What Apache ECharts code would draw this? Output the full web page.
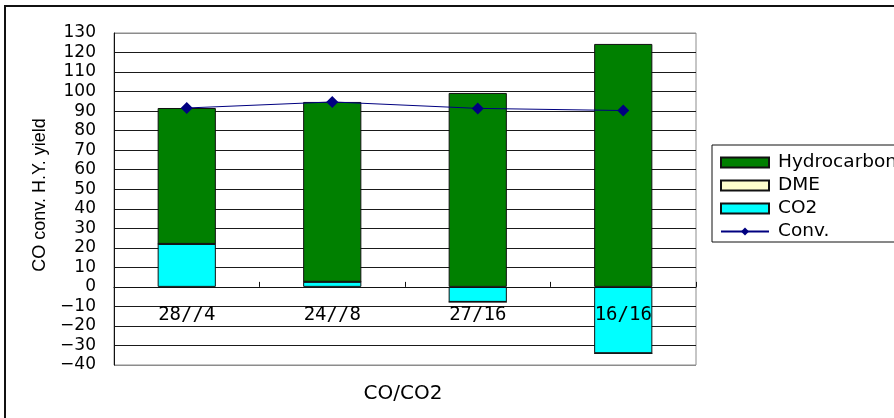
<!DOCTYPE html>
<html>
<head>
<meta charset="utf-8">
<style>
  html, body { margin: 0; padding: 0; background: #fff; }
  #chart { width: 894px; height: 418px; }
</style>
<script src="https://cdn.jsdelivr.net/npm/echarts@6/dist/echarts.min.js"></script>
</head>
<body>
<div id="chart"></div>
<script>
// CO/CO2 feed ratios
const categories = ['28//4', '24//8', '27/16', '16/16'];
// Yields (stacked), CO2 can be negative (consumed)
const co2 = [22, 2.6, -7.7, -34];
const dme = [0, 0, 0, 0];
const hydrocarbon = [69.6, 92.1, 99.3, 124.4];
// CO conversion
const conv = [91.6, 94.7, 91.4, 90.3];
// Value axis ticks
const yMin = -40, yMax = 130, yStep = 10;

const sansWide = 'DejaVu Sans';
const gridTop = 33, gridBottom = 53, chartH = 418;
// category axis sits on the zero line
const zeroOffset = -(chartH - gridTop - gridBottom) * (0 - yMin) / (yMax - yMin);

const chart = echarts.init(document.getElementById('chart'), null, { renderer: 'canvas' });

// grid lines: bottom and top in frame grey, inner ones black
const lineColors = [];
for (let v = yMin; v <= yMax; v += yStep) {
  lineColors.push(v === yMin || v === yMax ? '#8c8c8c' : '#1a1a1a');
}

const barBase = {
  type: 'bar',
  stack: 'yield',
  barWidth: '40%'
};

chart.setOption({
  animation: false,
  backgroundColor: '#fff',
  title: {
    text: 'CO/CO2',
    left: 403, top: 384,
    textAlign: 'center',
    padding: 0,
    textStyle: { fontFamily: sansWide, fontSize: 20, fontWeight: 'normal', color: '#000' }
  },
  graphic: [{
    type: 'rect',
    shape: { x: 5, y: 6, width: 1400, height: 1400 },
    style: { fill: null, stroke: '#111', lineWidth: 2 },
    z: 0
  }],
  grid: {
    left: 114, right: 198, top: gridTop, bottom: gridBottom,
    outerBoundsMode: 'none',
    containLabel: false,
    show: true, borderColor: '#8c8c8c', borderWidth: 1, backgroundColor: '#fff'
  },
  legend: {
    orient: 'vertical',
    left: 712, top: 145,
    padding: [8, 8, 1, 8],
    itemWidth: 48, itemHeight: 10, itemGap: 4,
    borderColor: '#111', borderWidth: 1, backgroundColor: '#fff',
    data: [
      { name: 'Hydrocarbon', icon: 'rect' },
      { name: 'DME', icon: 'rect' },
      { name: 'CO2', icon: 'rect' },
      { name: 'Conv.' }
    ],
    textStyle: { fontFamily: sansWide, fontSize: 18.5, color: '#000', padding: [0, 0, 0, 4] }
  },
  xAxis: {
    type: 'category',
    data: categories,
    z: 5,
    position: 'bottom',
    offset: zeroOffset,
    axisLine: { onZero: false, lineStyle: { color: '#111', width: 1 } },
    axisTick: { show: true, inside: true, length: 5, lineStyle: { color: '#111' } },
    axisLabel: { fontFamily: 'DejaVu Sans Mono', fontSize: 19, color: '#000', margin: 19 },
    splitLine: { show: false }
  },
  yAxis: {
    type: 'value',
    min: yMin, max: yMax, interval: yStep,
    axisLine: { show: true, lineStyle: { color: '#111', width: 1 } },
    axisTick: { show: false },
    axisLabel: {
      fontFamily: sansWide, fontSize: 17, color: '#000', margin: 18,
      showMinLabel: true, showMaxLabel: true,
      formatter: v => (v < 0 ? '\u2212' + (-v) : String(v))
    },
    splitLine: { show: true, lineStyle: { color: lineColors, width: 1 } },
    name: 'CO conv. H.Y. yield',
    nameLocation: 'middle',
    nameGap: 57,
    nameTextStyle: { fontFamily: 'Liberation Sans', fontSize: 18, color: '#000', padding: [0, 0, 0, 8] }
  },
  series: [
    Object.assign({}, barBase, { name: 'CO2', data: co2, itemStyle: { color: '#00ffff', borderColor: '#111', borderWidth: 1 } }),
    Object.assign({}, barBase, { name: 'DME', data: dme, itemStyle: { color: '#ffffcc', borderColor: '#111', borderWidth: 1 } }),
    Object.assign({}, barBase, { name: 'Hydrocarbon', data: hydrocarbon, itemStyle: { color: '#008000', borderColor: '#111', borderWidth: 1 } }),
    {
      name: 'Conv.',
      type: 'line',
      data: conv,
      z: 4,
      symbol: 'diamond',
      symbolSize: 12,
      lineStyle: { color: '#000080', width: 1 },
      itemStyle: { color: '#000080' }
    }
  ]
});
</script>
</body>
</html>
